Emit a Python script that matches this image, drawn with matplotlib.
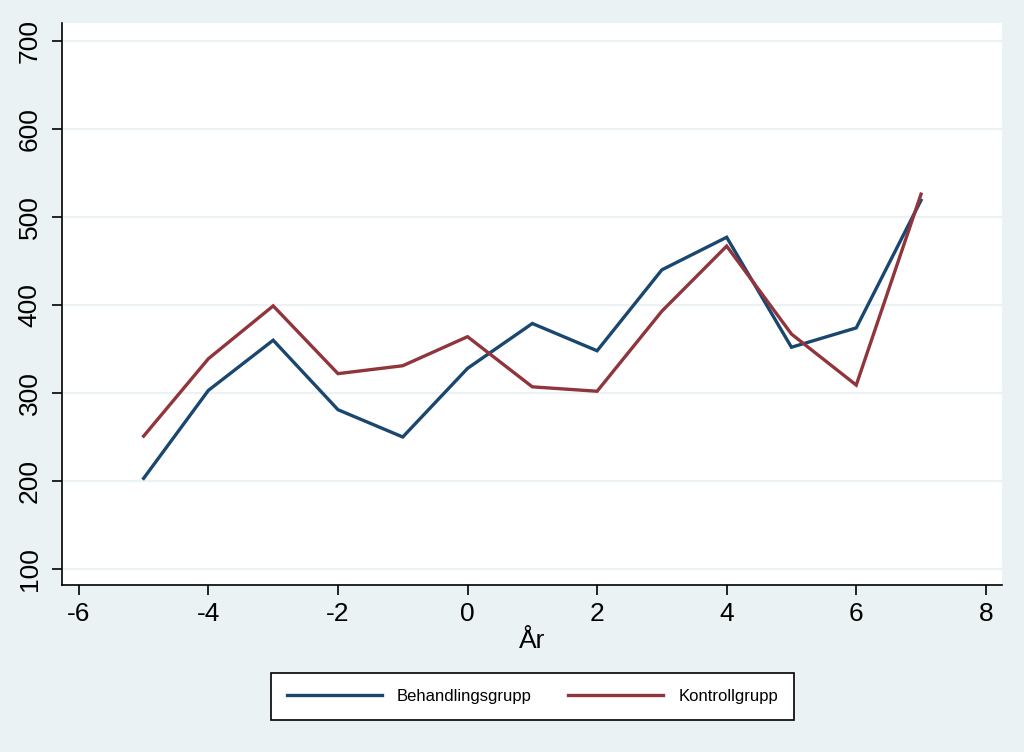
import matplotlib
matplotlib.use('Agg', force=True)

import matplotlib.pyplot as plt

# ================= data =================
years = [-5, -4, -3, -2, -1, 0, 1, 2, 3, 4, 5, 6, 7]
behandling = [203, 303, 360, 281, 250, 328, 379, 348, 440, 477, 352, 374, 519]
kontroll = [251, 339, 399, 322, 331, 364, 307, 302, 393, 467, 367, 309, 526]

x_ticks = [-6, -4, -2, 0, 2, 4, 6, 8]
y_ticks = [100, 200, 300, 400, 500, 600, 700]

# Stata s2color
bg = '#eaf2f3'
navy = '#1a476f'
maroon = '#90353b'

plt.rcParams['font.family'] = ['Liberation Sans', 'DejaVu Sans']

W, H = 1024, 752
fig = plt.figure(figsize=(W / 100, H / 100), dpi=100, facecolor=bg)

# plot region in pixels: left 62, right 1002, top 23, bottom 585
ax = fig.add_axes([62 / W, 1 - 585 / H, (1002 - 62) / W, (585 - 23) / H])
ax.set_facecolor('white')

ax.plot(years, behandling, color=navy, lw=2.4, label='Behandlingsgrupp', solid_joinstyle='miter')
ax.plot(years, kontroll, color=maroon, lw=2.4, label='Kontrollgrupp', solid_joinstyle='miter')

ax.set_xlim(-6.26, 8.25)
ax.set_ylim(81.8, 720.5)
ax.set_xticks(x_ticks)
ax.set_xticklabels([str(t) for t in x_ticks])
ax.set_yticks(y_ticks)
ax.set_yticklabels([str(t) for t in y_ticks], rotation=90, va='center')

ax.grid(axis='y', color=bg, lw=1.5)
ax.set_axisbelow(True)

for s in ['top', 'right']:
    ax.spines[s].set_visible(False)
for s in ['left', 'bottom']:
    ax.spines[s].set_color('black')
    ax.spines[s].set_linewidth(1.2)

ax.tick_params(axis='both', direction='out', length=7.5, width=1.2, labelsize=19, colors='black')
ax.tick_params(axis='y', pad=7)
ax.tick_params(axis='x', pad=5)

ax.set_xlabel('År', fontsize=19, labelpad=2)

leg = fig.legend(loc='center', bbox_to_anchor=(532.5 / W, 1 - 696.5 / H), ncol=2,
                 fontsize=12, frameon=True, fancybox=False, edgecolor='black',
                 facecolor='white', framealpha=1, handlelength=5.7, handletextpad=0.9,
                 columnspacing=2.2, borderpad=0.95, borderaxespad=0)
leg.get_frame().set_linewidth(1.2)

fig.savefig('out.png', dpi=100, facecolor=bg)
